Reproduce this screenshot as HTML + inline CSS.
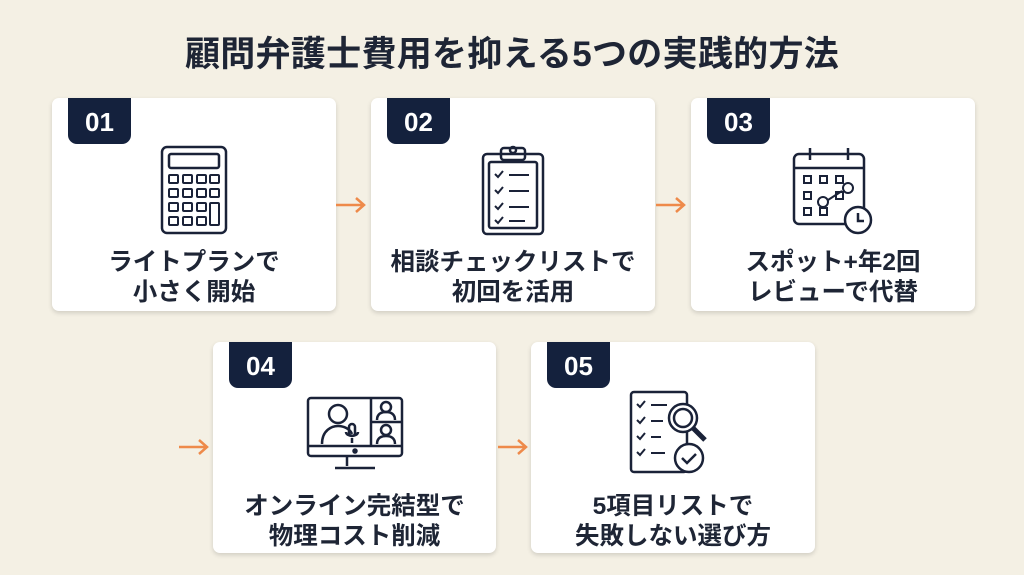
<!DOCTYPE html>
<html><head><meta charset="utf-8"><style>
*{margin:0;padding:0;box-sizing:border-box}
body{width:1024px;height:575px;background:#f4f0e4;font-family:"Liberation Sans","Noto Sans CJK JP",sans-serif;position:relative;overflow:hidden;color:#1a2238}
.t{position:absolute;top:26px;left:0;width:1024px;text-align:center;font-size:35px;font-weight:bold;color:#1e2535;letter-spacing:0.3px}
.c{position:absolute;background:#fff;border-radius:7px;box-shadow:0 2px 5px rgba(0,0,0,.15)}
.b{position:absolute;left:16px;top:0;width:63px;height:46px;background:#14213d;border-radius:0 0 9px 9px;color:#fff;font-weight:bold;font-size:26px;text-align:center;line-height:48px}
.l{position:absolute;left:0;width:100%;top:150px;text-align:center;font-weight:bold;font-size:24.5px;line-height:30px;color:#1e2535}
.ic{position:absolute;left:50%;top:46px;transform:translateX(-50%)}
.a{position:absolute}
</style></head><body>
<div class="t">顧問弁護士費用を抑える5つの実践的方法</div>

<div class="c" style="left:52px;top:98px;width:284px;height:213px"><div class="b">01</div>
<svg class="ic" width="70" height="92" viewBox="0 0 70 92" fill="none" stroke="#1a2238" stroke-width="2.5"><rect x="3" y="3" width="64" height="86" rx="5"/><rect x="10" y="10" width="50" height="14" rx="2"/><g stroke-width="2"><rect x="10" y="31" width="9" height="8" rx="1"/><rect x="24" y="31" width="9" height="8" rx="1"/><rect x="38" y="31" width="9" height="8" rx="1"/><rect x="51" y="31" width="9" height="8" rx="1"/><rect x="10" y="45" width="9" height="8" rx="1"/><rect x="24" y="45" width="9" height="8" rx="1"/><rect x="38" y="45" width="9" height="8" rx="1"/><rect x="51" y="45" width="9" height="8" rx="1"/><rect x="10" y="59" width="9" height="8" rx="1"/><rect x="24" y="59" width="9" height="8" rx="1"/><rect x="38" y="59" width="9" height="8" rx="1"/><rect x="51" y="59" width="9" height="22" rx="1"/><rect x="10" y="73" width="9" height="8" rx="1"/><rect x="24" y="73" width="9" height="8" rx="1"/><rect x="38" y="73" width="9" height="8" rx="1"/></g></svg>
<div class="l">ライトプランで<br>小さく開始</div></div>

<div class="c" style="left:371px;top:98px;width:284px;height:213px"><div class="b">02</div>
<svg class="ic" width="72" height="92" viewBox="0 0 72 92" fill="none" stroke="#1a2238" stroke-width="2.5"><rect x="6" y="10" width="60" height="80" rx="4"/><rect x="12" y="18" width="48" height="66" rx="2"/><rect x="24" y="4" width="24" height="12" rx="3"/><circle cx="36" cy="6" r="3"/><g stroke-width="2"><path d="M18 30l3 3 5-6M32 31h20M18 46l3 3 5-6M32 47h20M18 62l3 3 5-6M32 63h20M18 76l3 3 5-6M32 77h16"/></g></svg>
<div class="l">相談チェックリストで<br>初回を活用</div></div>

<div class="c" style="left:691px;top:98px;width:284px;height:213px"><div class="b">03</div>
<svg class="ic" width="86" height="92" viewBox="0 0 86 92" fill="none" stroke="#1a2238" stroke-width="2.5"><rect x="4" y="10" width="70" height="70" rx="5"/><path d="M4 24h70M20 4v12M58 4v12"/><g stroke-width="2"><rect x="14" y="32" width="7" height="7"/><rect x="30" y="32" width="7" height="7"/><rect x="46" y="32" width="7" height="7"/><rect x="14" y="48" width="7" height="7"/><rect x="46" y="48" width="7" height="7"/><rect x="14" y="64" width="7" height="7"/><rect x="30" y="64" width="7" height="7"/><circle cx="33" cy="58" r="5"/><circle cx="58" cy="44" r="5"/><path d="M38 56l14-9"/></g><circle cx="68" cy="76" r="13" fill="#fff"/><path d="M68 69v8h6"/></svg>
<div class="l">スポット+年2回<br>レビューで代替</div></div>

<div class="c" style="left:213px;top:342px;width:283px;height:211px"><div class="b">04</div>
<svg class="ic" width="100" height="84" viewBox="0 0 100 84" fill="none" stroke="#1a2238" stroke-width="2.5"><rect x="3" y="10" width="94" height="58" rx="3"/><path d="M3 58h94M66 10v48M66 34h31M42 68v10M30 80h40"/><circle cx="33" cy="26" r="9"/><path d="M17 56c0-14 10-18 16-18s12 3 14 8"/><rect x="44" y="36" width="6" height="12" rx="3"/><path d="M41 44c0 5 12 5 12 0M47 50v5"/><circle cx="81" cy="19" r="5"/><path d="M72 32c0-6 4-8 9-8s9 2 9 8"/><circle cx="81" cy="42" r="5"/><path d="M72 56c0-6 4-8 9-8s9 2 9 8"/><circle cx="50" cy="63" r="1.5" fill="#1a2238"/></svg>
<div class="l">オンライン完結型で<br>物理コスト削減</div></div>

<div class="c" style="left:531px;top:342px;width:284px;height:211px"><div class="b">05</div>
<svg class="ic" width="92" height="90" viewBox="0 0 92 90" fill="none" stroke="#1a2238" stroke-width="2.5"><rect x="4" y="4" width="56" height="80" rx="3"/><g stroke-width="2"><path d="M10 16l3 3 5-6M24 17h16M10 32l3 3 5-6M24 33h12M10 48l3 3 5-6M24 49h10M10 64l3 3 5-6M24 65h14"/></g><circle cx="56" cy="30" r="14" fill="#fff"/><circle cx="56" cy="30" r="9"/><path d="M66 40l12 12" stroke-width="5"/><circle cx="62" cy="70" r="14" fill="#fff"/><path d="M55 70l5 5 9-9"/></svg>
<div class="l">5項目リストで<br>失敗しない選び方</div></div>

<svg class="a" style="left:334px;top:196px" width="34" height="18"><path d="M2 9h28M22 2l8 7-8 7" fill="none" stroke="#ee8a4a" stroke-width="2.5"/></svg>
<svg class="a" style="left:654px;top:196px" width="34" height="18"><path d="M2 9h28M22 2l8 7-8 7" fill="none" stroke="#ee8a4a" stroke-width="2.5"/></svg>
<svg class="a" style="left:177px;top:438px" width="34" height="18"><path d="M2 9h28M22 2l8 7-8 7" fill="none" stroke="#ee8a4a" stroke-width="2.5"/></svg>
<svg class="a" style="left:496px;top:438px" width="34" height="18"><path d="M2 9h28M22 2l8 7-8 7" fill="none" stroke="#ee8a4a" stroke-width="2.5"/></svg>
</body></html>
